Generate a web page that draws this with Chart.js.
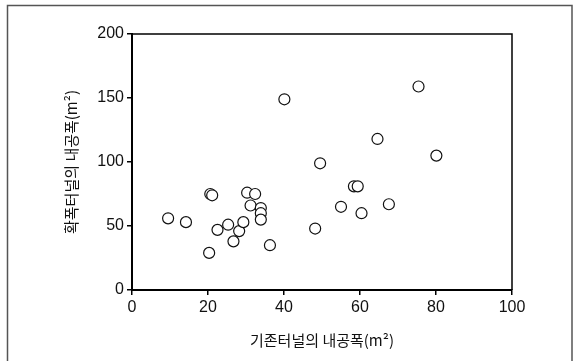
<!DOCTYPE html>
<html>
<head>
<meta charset="utf-8">
<script src="https://cdn.jsdelivr.net/npm/chart.js@4/dist/chart.umd.min.js"></script>
<style>
  html, body { margin: 0; padding: 0; background: #fff; }
  #wrap { width: 579px; height: 361px; }
</style>
</head>
<body>
<div id="wrap"><canvas id="scatter" width="579" height="361"></canvas></div>
<script>
// existing tunnel width (x) vs widened tunnel width (y)
const existingWidth = [9.5, 14.2, 20.3, 20.6, 21.1, 22.5, 25.3, 26.7, 28.2, 29.3, 30.3, 31.2, 32.4, 33.9, 33.9, 33.9, 36.3,
  40.1, 48.2, 49.5, 55.0, 58.4, 59.4, 60.4, 64.6, 67.6, 75.4, 80.1];
const widenedWidth = [56, 53, 29, 75, 74, 47, 51, 38, 46, 53, 76, 66, 75, 64, 60, 55, 35,
  149, 48, 99, 65, 81, 81, 60, 118, 67, 159, 105];
const xTicks = [0, 20, 40, 60, 80, 100];
const yTicks = [0, 50, 100, 150, 200];
const xTitle = "기존터널의 내공폭(m²)";
const yTitle = "확폭터널의 내공폭(m²)";

const points = existingWidth.map((x, i) => ({ x: x, y: widenedWidth[i] }));

// outer frame + top/right edges of the plot box
const framePlugin = {
  id: "frame",
  afterDraw(chart) {
    const ctx = chart.ctx;
    const a = chart.chartArea;
    ctx.save();
    ctx.strokeStyle = "#555";
    ctx.lineWidth = 1.5;
    ctx.beginPath();
    ctx.moveTo(7.5, 361);
    ctx.lineTo(7.5, 5.5);
    ctx.lineTo(572, 5.5);
    ctx.lineTo(572, 361);
    ctx.stroke();
    ctx.strokeStyle = "#000";
    ctx.lineWidth = 1.5;
    ctx.beginPath();
    ctx.moveTo(a.left, a.top);
    ctx.lineTo(a.right, a.top);
    ctx.lineTo(a.right, a.bottom);
    ctx.stroke();
    ctx.restore();
  },
};

const tickFont = { family: "'Liberation Sans', Arial, sans-serif", size: 16 };
const titleFont = { family: "'Noto Sans CJK KR', 'Noto Sans', sans-serif", size: 15 };

new Chart(document.getElementById("scatter").getContext("2d"), {
  type: "scatter",
  data: {
    datasets: [
      {
        data: points,
        backgroundColor: "#fff",
        borderColor: "#111",
        borderWidth: 1.2,
        pointRadius: 5.5,
      },
    ],
  },
  options: {
    responsive: false,
    animation: false,
    layout: { padding: { top: 34, right: 67, bottom: 0, left: 0 } },
    plugins: {
      legend: { display: false },
      tooltip: { enabled: false },
    },
    scales: {
      x: {
        type: "linear",
        min: 0,
        max: 100,
        afterBuildTicks: (scale) => { scale.ticks = xTicks.map((v) => ({ value: v })); },
        afterFit: (scale) => { scale.height = 71; },
        border: { display: true, color: "#000", width: 2 },
        grid: { drawOnChartArea: false, drawTicks: true, tickLength: 5, color: "#000", lineWidth: 1.5 },
        ticks: { color: "#111", font: tickFont, padding: 3, maxRotation: 0 },
        title: { display: true, text: xTitle, color: "#111", font: titleFont, padding: { top: 0, bottom: 12 } },
      },
      y: {
        type: "linear",
        min: 0,
        max: 200,
        afterBuildTicks: (scale) => { scale.ticks = yTicks.map((v) => ({ value: v })); },
        afterFit: (scale) => { scale.width = 132; },
        border: { display: true, color: "#000", width: 2 },
        grid: { drawOnChartArea: false, drawTicks: true, tickLength: 5, color: "#000", lineWidth: 1.5 },
        ticks: { color: "#111", font: tickFont, padding: 3 },
        title: { display: true, text: yTitle, color: "#111", font: titleFont, padding: { top: 62, bottom: 0 } },
      },
    },
  },
  plugins: [framePlugin],
});
</script>
</body>
</html>
